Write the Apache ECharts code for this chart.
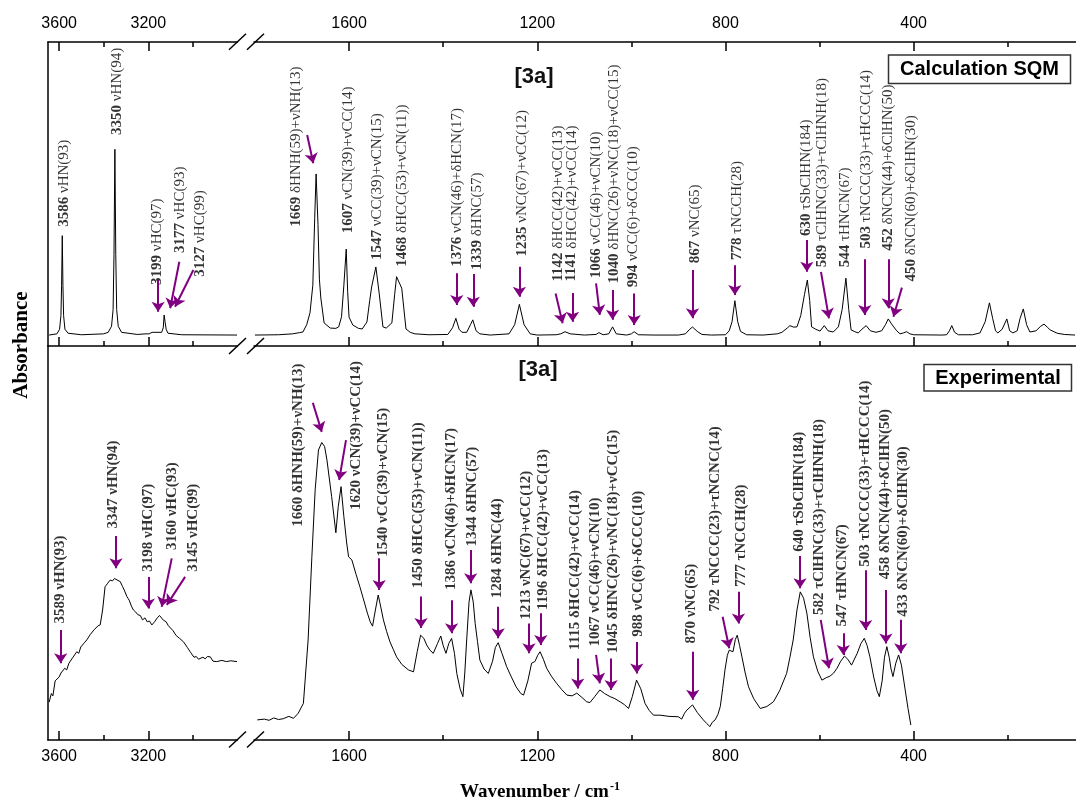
<!DOCTYPE html>
<html>
<head>
<meta charset="utf-8">
<script src="https://cdn.jsdelivr.net/npm/echarts@6/dist/echarts.min.js"></script>
<style>
  html, body { margin: 0; padding: 0; background: #fff; }
  #main { width: 1076px; height: 804px; }
</style>
</head>
<body>
<div id="main"></div>
<script>
// ---- spectra: [wavenumber (cm-1), absorbance (a.u.)] ----
const calcHigh = [
  [3645, 0.036], [3610, 0.040], [3598, 0.055], [3592, 0.10], [3589, 0.20], [3586, 0.363],
  [3583, 0.20], [3580, 0.10], [3574, 0.055], [3560, 0.042], [3500, 0.037], [3400, 0.040],
  [3380, 0.045], [3365, 0.065], [3358, 0.12], [3354, 0.30], [3350, 0.647], [3346, 0.30],
  [3342, 0.12], [3335, 0.065], [3320, 0.045], [3250, 0.038], [3210, 0.040], [3202, 0.046],
  [3196, 0.040], [3183, 0.045], [3176, 0.040], [3140, 0.045], [3133, 0.06], [3129, 0.102],
  [3125, 0.08], [3120, 0.055], [3112, 0.042], [3050, 0.037], [2802, 0.036]
];
const calcLow = [
  [1800, 0.036], [1750, 0.037], [1720, 0.040], [1705, 0.044], [1698, 0.046], [1690, 0.07],
  [1683, 0.109], [1677, 0.2], [1673, 0.42], [1670, 0.566], [1666, 0.40], [1663, 0.22],
  [1660, 0.158], [1653, 0.076], [1640, 0.059], [1628, 0.058], [1622, 0.063], [1616, 0.096],
  [1611, 0.2], [1606, 0.319], [1603, 0.18], [1600, 0.095], [1592, 0.069], [1580, 0.058],
  [1572, 0.056], [1562, 0.079], [1556, 0.15], [1552, 0.194], [1543, 0.26], [1536, 0.174],
  [1528, 0.063], [1521, 0.059], [1509, 0.076], [1503, 0.17], [1499, 0.228], [1488, 0.19],
  [1479, 0.056], [1470, 0.045], [1460, 0.040], [1430, 0.037], [1390, 0.038], [1380, 0.06],
  [1373, 0.091], [1366, 0.055], [1360, 0.045], [1350, 0.045], [1342, 0.07], [1337, 0.086],
  [1330, 0.05], [1322, 0.040], [1300, 0.036], [1260, 0.040], [1248, 0.07], [1238, 0.137],
  [1228, 0.07], [1215, 0.040], [1200, 0.036], [1160, 0.037], [1150, 0.040], [1141, 0.047],
  [1130, 0.040], [1100, 0.036], [1075, 0.038], [1069, 0.044], [1060, 0.037], [1048, 0.040],
  [1040, 0.063], [1032, 0.040], [1010, 0.036], [1000, 0.040], [994, 0.047], [985, 0.037],
  [950, 0.036], [900, 0.036], [885, 0.040], [876, 0.055], [870, 0.0625], [860, 0.048],
  [850, 0.038], [830, 0.036], [800, 0.037], [792, 0.05], [786, 0.08], [780, 0.149],
  [774, 0.08], [768, 0.048], [755, 0.037], [720, 0.036], [690, 0.040], [680, 0.045],
  [668, 0.06], [663, 0.067], [655, 0.062], [648, 0.063], [640, 0.10], [632, 0.17],
  [626, 0.217], [621, 0.15], [617, 0.063], [608, 0.055], [599, 0.049], [590, 0.067],
  [582, 0.05], [571, 0.046], [560, 0.063], [552, 0.12], [544, 0.223], [538, 0.12],
  [533, 0.053], [525, 0.047], [518, 0.043], [510, 0.055], [501, 0.067], [492, 0.05],
  [480, 0.045], [468, 0.05], [460, 0.07], [454, 0.089], [448, 0.075], [444, 0.066],
  [436, 0.05], [429, 0.04], [422, 0.043], [415, 0.047], [408, 0.04], [400, 0.037],
  [340, 0.036], [330, 0.037], [324, 0.05], [319, 0.067], [313, 0.045], [305, 0.037],
  [275, 0.037], [259, 0.043], [248, 0.08], [239, 0.142], [232, 0.09], [226, 0.05],
  [221, 0.043], [212, 0.055], [202, 0.089], [196, 0.05], [189, 0.043], [180, 0.05],
  [174, 0.09], [167, 0.122], [160, 0.07], [153, 0.046], [140, 0.05], [130, 0.065],
  [123, 0.072], [116, 0.062], [110, 0.053], [95, 0.042], [80, 0.038], [57, 0.036]
];
const expHigh = [
  [3645, 0.096], [3635, 0.118], [3628, 0.112], [3618, 0.150], [3610, 0.145], [3600, 0.160],
  [3592, 0.170], [3585, 0.165], [3575, 0.182], [3566, 0.178], [3556, 0.195], [3548, 0.190],
  [3538, 0.210], [3530, 0.205], [3521, 0.224], [3512, 0.220], [3503, 0.236], [3495, 0.232],
  [3485, 0.248], [3476, 0.254], [3468, 0.250], [3460, 0.268], [3452, 0.263], [3443, 0.280],
  [3435, 0.276], [3425, 0.290], [3416, 0.292], [3405, 0.330], [3394, 0.389], [3382, 0.398],
  [3371, 0.406], [3360, 0.404], [3352, 0.410], [3344, 0.414], [3336, 0.405], [3326, 0.402],
  [3316, 0.390], [3306, 0.378], [3296, 0.364], [3286, 0.355], [3276, 0.340], [3267, 0.330],
  [3257, 0.325], [3247, 0.318], [3236, 0.316], [3226, 0.305], [3215, 0.310], [3205, 0.300],
  [3195, 0.302], [3184, 0.292], [3172, 0.300], [3160, 0.310], [3150, 0.316], [3144, 0.317],
  [3132, 0.304], [3120, 0.300], [3110, 0.290], [3102, 0.288], [3090, 0.278], [3075, 0.265],
  [3060, 0.258], [3042, 0.249], [3025, 0.235], [3010, 0.222], [2995, 0.210], [2985, 0.212],
  [2975, 0.205], [2967, 0.203], [2955, 0.210], [2945, 0.206], [2935, 0.212], [2922, 0.211],
  [2910, 0.200], [2893, 0.199], [2870, 0.202], [2850, 0.199], [2830, 0.201], [2802, 0.199]
];
const expLow = [
  [1795, 0.051], [1780, 0.053], [1770, 0.050], [1760, 0.056], [1750, 0.052], [1740, 0.054],
  [1728, 0.060], [1718, 0.055], [1708, 0.068], [1697, 0.093], [1687, 0.254], [1679, 0.465],
  [1672, 0.635], [1665, 0.736], [1658, 0.755], [1652, 0.745], [1647, 0.711], [1637, 0.618],
  [1628, 0.526], [1623, 0.592], [1617, 0.643], [1611, 0.567], [1605, 0.50], [1601, 0.465],
  [1594, 0.457], [1585, 0.42], [1577, 0.389], [1570, 0.36], [1561, 0.322], [1555, 0.30],
  [1550, 0.289], [1544, 0.33], [1538, 0.368], [1533, 0.34], [1527, 0.305], [1520, 0.275],
  [1513, 0.249], [1506, 0.23], [1499, 0.211], [1488, 0.192], [1474, 0.178], [1463, 0.173],
  [1455, 0.225], [1448, 0.266], [1441, 0.258], [1435, 0.241], [1428, 0.228], [1421, 0.220],
  [1412, 0.245], [1405, 0.264], [1400, 0.24], [1394, 0.220], [1388, 0.245], [1382, 0.258],
  [1376, 0.22], [1371, 0.169], [1364, 0.13], [1358, 0.110], [1354, 0.17], [1350, 0.254],
  [1345, 0.35], [1341, 0.381], [1336, 0.35], [1332, 0.296], [1327, 0.25], [1322, 0.203],
  [1313, 0.18], [1304, 0.169], [1295, 0.20], [1289, 0.235], [1283, 0.247], [1275, 0.22],
  [1265, 0.186], [1255, 0.16], [1245, 0.135], [1235, 0.118], [1229, 0.114], [1220, 0.15],
  [1212, 0.195], [1205, 0.199], [1199, 0.215], [1194, 0.224], [1187, 0.205], [1180, 0.182],
  [1170, 0.162], [1159, 0.144], [1148, 0.128], [1137, 0.114], [1126, 0.112], [1116, 0.119],
  [1105, 0.108], [1095, 0.097], [1088, 0.095], [1078, 0.110], [1067, 0.127], [1057, 0.118],
  [1045, 0.110], [1035, 0.105], [1024, 0.097], [1015, 0.090], [1006, 0.080], [998, 0.11],
  [989, 0.152], [980, 0.13], [971, 0.093], [962, 0.075], [953, 0.063], [939, 0.063],
  [920, 0.060], [900, 0.059], [893, 0.053], [887, 0.068], [882, 0.076], [870, 0.089],
  [860, 0.07], [847, 0.051], [840, 0.042], [833, 0.034], [828, 0.045], [822, 0.051],
  [816, 0.065], [811, 0.085], [806, 0.13], [801, 0.178], [796, 0.215], [792, 0.228],
  [788, 0.226], [784, 0.224], [779, 0.255], [775, 0.266], [770, 0.24], [765, 0.211],
  [758, 0.17], [751, 0.135], [740, 0.105], [726, 0.080], [712, 0.085], [698, 0.097],
  [685, 0.125], [670, 0.169], [663, 0.21], [656, 0.254], [648, 0.33], [641, 0.376],
  [634, 0.36], [627, 0.322], [620, 0.26], [613, 0.211], [604, 0.175], [595, 0.152],
  [586, 0.158], [578, 0.162], [570, 0.17], [563, 0.182], [555, 0.20], [547, 0.213],
  [540, 0.205], [532, 0.190], [520, 0.22], [512, 0.245], [505, 0.258], [499, 0.24],
  [493, 0.211], [485, 0.16], [478, 0.125], [473, 0.110], [467, 0.15], [462, 0.21],
  [457, 0.237], [452, 0.21], [448, 0.18], [444, 0.161], [438, 0.195], [432, 0.216],
  [426, 0.19], [418, 0.127], [412, 0.08], [406, 0.038]
];

// ---- band assignments ----
const calcHighBands = [3586, 3350, 3199, 3177, 3127];
const calcHighText = ['νHN(93)', 'νHN(94)', 'νHC(97)', 'νHC(93)', 'νHC(99)'];
const calcLowBands = [1669, 1607, 1547, 1468, 1376, 1339, 1235, 1142, 1141, 1066, 1040, 994,
  867, 778, 630, 589, 544, 503, 452, 450];
const calcLowText = ['δHNH(59)+νNH(13)', 'νCN(39)+νCC(14)', 'νCC(39)+νCN(15)', 'δHCC(53)+νCN(11))',
  'νCN(46)+δHCN(17)', 'δHNC(57)', 'νNC(67)+νCC(12)', 'δHCC(42)+νCC(13)', 'δHCC(42)+νCC(14)',
  'νCC(46)+νCN(10)', 'δHNC(26)+νNC(18)+νCC(15)', 'νCC(6)+δCCC(10)', 'νNC(65)', 'τNCCH(28)',
  'τSbClHN(184)', 'τClHNC(33)+τClHNH(18)', 'τHNCN(67)', 'τNCCC(33)+τHCCC(14)',
  'δNCN(44)+δClHN(50)', 'δNCN(60)+δClHN(30)'];
const expHighBands = [3589, 3347, 3198, 3160, 3145];
const expHighText = ['νHN(93)', 'νHN(94)', 'νHC(97)', 'νHC(93)', 'νHC(99)'];
const expLowBands = [1660, 1620, 1540, 1450, 1386, 1344, 1284, 1213, 1196, 1115, 1067, 1045, 988,
  870, 792, 777, 640, 582, 547, 503, 458, 433];
const expLowText = ['δHNH(59)+νNH(13)', 'νCN(39)+νCC(14)', 'νCC(39)+νCN(15)', 'δHCC(53)+νCN(11))',
  'νCN(46)+δHCN(17)', 'δHNC(57)', 'δHNC(44)', 'νNC(67)+νCC(12)', 'δHCC(42)+νCC(13)',
  'δHCC(42)+νCC(14)', 'νCC(46)+νCN(10)', 'δHNC(26)+νNC(18)+νCC(15)', 'νCC(6)+δCCC(10)',
  'νNC(65)', 'τNCCC(23)+τNCNC(14)', 'τNCCH(28)', 'τSbClHN(184)', 'τClHNC(33)+τClHNH(18)',
  'τHNCN(67)', 'τNCCC(33)+τHCCC(14)', 'δNCN(44)+δClHN(50)', 'δNCN(60)+δClHN(30)'];

// ---- annotation placement (data units): label foot [wn, abs], arrow [wn1, abs1, wn2, abs2] ----
const calcHighLabelAt = [[3578, 0.392], [3340, 0.694], [3162, 0.201], [3057, 0.306], [2968, 0.228]];
const calcHighArrows = [[3156, 0.217, 3156, 0.113], [3061, 0.277, 3102, 0.124], [2998, 0.25, 3080, 0.129]];
const calcLowLabelAt = [[1713, 0.392], [1603, 0.371], [1541, 0.283], [1487, 0.261], [1371, 0.261],
  [1327, 0.25], [1233, 0.294], [1155, 0.212], [1127, 0.212], [1074, 0.223], [1037, 0.206],
  [996, 0.193], [865, 0.272], [775, 0.283], [629.5, 0.362], [595.5, 0.259], [546, 0.259],
  [501, 0.321], [454, 0.313], [406, 0.212]];
const calcLowArrows = [[1689, 0.694, 1676, 0.601], [1371, 0.239, 1371, 0.135], [1336, 0.237, 1336, 0.129],
  [1238, 0.261, 1238, 0.162], [1161, 0.173, 1146, 0.075], [1125, 0.174, 1125, 0.080],
  [1075, 0.206, 1067, 0.102], [1040, 0.184, 1040, 0.086], [994, 0.173, 994, 0.069],
  [870, 0.25, 870, 0.091], [780, 0.266, 780, 0.168], [627, 0.349, 627, 0.244],
  [597, 0.244, 580, 0.091], [504, 0.285, 504, 0.102], [454, 0.285, 454, 0.124],
  [425, 0.192, 443, 0.096]];
const expHighLabelAt = [[3596, 0.296], [3357, 0.537], [3200, 0.427], [3095, 0.482], [3000, 0.427]];
const expHighArrows = [[3593, 0.279, 3593, 0.195], [3345, 0.518, 3345, 0.436], [3200, 0.414, 3200, 0.334],
  [3095, 0.461, 3140, 0.338], [3035, 0.414, 3117, 0.343]];
const expLowLabelAt = [[1708, 0.541], [1585, 0.584], [1528.5, 0.465], [1453, 0.385], [1382, 0.381],
  [1339, 0.491], [1286, 0.360], [1224, 0.305], [1187, 0.330], [1120, 0.228], [1077, 0.237],
  [1038, 0.220], [985, 0.262], [872, 0.245], [822, 0.326], [767, 0.389], [643, 0.478],
  [600.5, 0.317], [551, 0.288], [503.5, 0.440], [461, 0.408], [423, 0.313]];
const expLowArrows = [[1677, 0.856, 1658, 0.782], [1606.5, 0.761, 1621, 0.660], [1536, 0.461, 1536, 0.381],
  [1447, 0.364, 1447, 0.284], [1382, 0.355, 1382, 0.271], [1341.5, 0.482, 1341.5, 0.398],
  [1283, 0.338, 1283, 0.258], [1217.5, 0.296, 1217.5, 0.220], [1192.5, 0.322, 1192.5, 0.241],
  [1114, 0.207, 1114, 0.131], [1075, 0.216, 1067, 0.144], [1043, 0.207, 1043, 0.127],
  [988.5, 0.249, 988.5, 0.169], [869.5, 0.224, 869.5, 0.102], [806, 0.313, 792, 0.233],
  [772.5, 0.376, 772.5, 0.296], [641.5, 0.467, 641.5, 0.385], [597.5, 0.305, 580, 0.182],
  [549.5, 0.271, 549.5, 0.216], [502, 0.431, 502, 0.279], [459, 0.381, 459, 0.245],
  [427.5, 0.305, 427.5, 0.220]];

// ---- axis ticks ----
const highRange = [2800, 3650];
const lowRange = [55, 1802];
const highMajor = [3600, 3200];
const highMinor = [3400, 3000];
const lowMajor = [1600, 1200, 800, 400];
const lowMinor = [1400, 1000, 600, 200];

const SANS = 'Liberation Sans, Arial, sans-serif';
const SERIF = 'Liberation Serif, Times New Roman, serif';
const PURPLE = '#800080';

const chart = echarts.init(document.getElementById('main'), null, { renderer: 'canvas' });

function xAxes(grid, range, pos, major, minor, withLabels) {
  const common = { type: 'value', gridIndex: grid, position: pos, inverse: true,
    min: range[0], max: range[1], splitLine: { show: false } };
  return [
    Object.assign({}, common, {
      axisLine: { show: true, onZero: false, lineStyle: { color: '#000', width: 1.5 } },
      axisTick: { show: true, inside: true, length: 9, customValues: major,
        lineStyle: { color: '#000', width: 1.5 } },
      axisLabel: { show: withLabels, customValues: major, margin: pos === 'top' ? 10 : 9,
        formatter: v => String(v), fontFamily: SANS, fontSize: 16, color: '#000' }
    }),
    Object.assign({}, common, {
      axisLine: { show: false, onZero: false },
      axisTick: { show: true, inside: true, length: 5, customValues: minor,
        lineStyle: { color: '#000', width: 1.5 } },
      axisLabel: { show: false }
    })
  ];
}

function yAxis(grid, showLine) {
  return { type: 'value', gridIndex: grid, min: 0, max: 1,
    axisLine: { show: showLine, onZero: false, lineStyle: { color: '#000', width: 1.5 } },
    axisTick: { show: false }, axisLabel: { show: false }, splitLine: { show: false } };
}

function spectrum(xi, yi, data, arrows) {
  return {
    type: 'line', xAxisIndex: xi, yAxisIndex: yi, data: data,
    showSymbol: false, silent: true, animation: false,
    lineStyle: { color: '#000', width: 1 },
    markLine: {
      silent: true, animation: false, symbol: ['none', 'arrow'], symbolSize: 10,
      label: { show: false },
      lineStyle: { color: PURPLE, width: 2, type: 'solid' },
      emphasis: { disabled: true },
      data: arrows.map(a => [{ coord: [a[0], a[1]] }, { coord: [a[2], a[3]] }])
    }
  };
}

function labels(xi, yi, at, bands, texts, allBold) {
  const size = 15;
  return {
    type: 'scatter', xAxisIndex: xi, yAxisIndex: yi, silent: true, animation: false,
    symbolSize: 1, itemStyle: { color: 'rgba(0,0,0,0)' },
    data: at.map(p => p.slice()),
    label: {
      show: true, position: 'inside', rotate: 90, align: 'left', verticalAlign: 'middle',
      color: '#000', fontFamily: SERIF, fontSize: size,
      fontWeight: allBold ? 'bold' : 'normal',
      formatter: p => '{b|' + bands[p.dataIndex] + '} ' + texts[p.dataIndex],
      rich: { b: { fontFamily: SERIF, fontSize: size, fontWeight: 'bold', color: '#000' } }
    }
  };
}

function breakMarks(yc) {
  return [
    { type: 'line', shape: { x1: 229, y1: yc + 8, x2: 246, y2: yc - 8 }, style: { stroke: '#000', lineWidth: 1.5 } },
    { type: 'line', shape: { x1: 247, y1: yc + 8, x2: 264, y2: yc - 8 }, style: { stroke: '#000', lineWidth: 1.5 } }
  ];
}

const grids = [
  { left: 48, top: 42, width: 189.5, height: 304 },
  { left: 254, top: 42, width: 822, height: 304 },
  { left: 48, top: 346, width: 189.5, height: 394 },
  { left: 254, top: 346, width: 822, height: 394 }
];

const xAxisList = [].concat(
  xAxes(0, highRange, 'top', highMajor, highMinor, true),      // 0,1
  xAxes(0, highRange, 'bottom', highMajor, highMinor, false),  // 2,3
  xAxes(1, lowRange, 'top', lowMajor, lowMinor, true),         // 4,5
  xAxes(1, lowRange, 'bottom', lowMajor, lowMinor, false),     // 6,7
  xAxes(2, highRange, 'bottom', highMajor, highMinor, true),   // 8,9
  xAxes(3, lowRange, 'bottom', lowMajor, lowMinor, true)       // 10,11
);

const option = {
  backgroundColor: '#fff',
  animation: false,
  grid: grids,
  xAxis: xAxisList,
  yAxis: [yAxis(0, true), yAxis(1, false), yAxis(2, true), yAxis(3, false)],
  series: [
    spectrum(0, 0, calcHigh, calcHighArrows),
    spectrum(4, 1, calcLow, calcLowArrows),
    spectrum(8, 2, expHigh, expHighArrows),
    spectrum(10, 3, expLow, expLowArrows),
    labels(0, 0, calcHighLabelAt, calcHighBands, calcHighText, false),
    labels(4, 1, calcLowLabelAt, calcLowBands, calcLowText, false),
    labels(8, 2, expHighLabelAt, expHighBands, expHighText, true),
    labels(10, 3, expLowLabelAt, expLowBands, expLowText, true)
  ],
  graphic: [].concat(
    breakMarks(41.7), breakMarks(346), breakMarks(739.5),
    [
      { type: 'text', x: 534, y: 77, style: { text: '[3a]', font: 'bold 22px ' + SANS, fill: '#111', align: 'center', verticalAlign: 'middle' } },
      { type: 'text', x: 538, y: 370, style: { text: '[3a]', font: 'bold 22px ' + SANS, fill: '#111', align: 'center', verticalAlign: 'middle' } },
      { type: 'rect', shape: { x: 888.5, y: 55, width: 182, height: 28.5 }, style: { fill: '#fff', stroke: '#333', lineWidth: 1.5 } },
      { type: 'text', x: 979.5, y: 69.5, style: { text: 'Calculation SQM', font: 'bold 20px ' + SANS, fill: '#000', align: 'center', verticalAlign: 'middle' } },
      { type: 'rect', shape: { x: 924, y: 364.5, width: 147.5, height: 26.5 }, style: { fill: '#fff', stroke: '#333', lineWidth: 1.5 } },
      { type: 'text', x: 998, y: 378, style: { text: 'Experimental', font: 'bold 20px ' + SANS, fill: '#000', align: 'center', verticalAlign: 'middle' } },
      { type: 'text', x: 22, y: 345, rotation: Math.PI / 2,
        style: { text: 'Absorbance', font: 'bold 21px ' + SERIF, fill: '#000', align: 'center', verticalAlign: 'middle' } },
      { type: 'text', x: 540, y: 792,
        style: { text: '{a|Wavenumber / cm}{s|-1}', align: 'center', verticalAlign: 'middle',
          rich: { a: { font: 'bold 19px ' + SERIF, fill: '#000' },
                  s: { font: 'bold 12px ' + SERIF, fill: '#000', verticalAlign: 'top', padding: [0, 0, 10, 1] } } } }
    ]
  )
};

chart.setOption(option);
</script>
</body>
</html>
